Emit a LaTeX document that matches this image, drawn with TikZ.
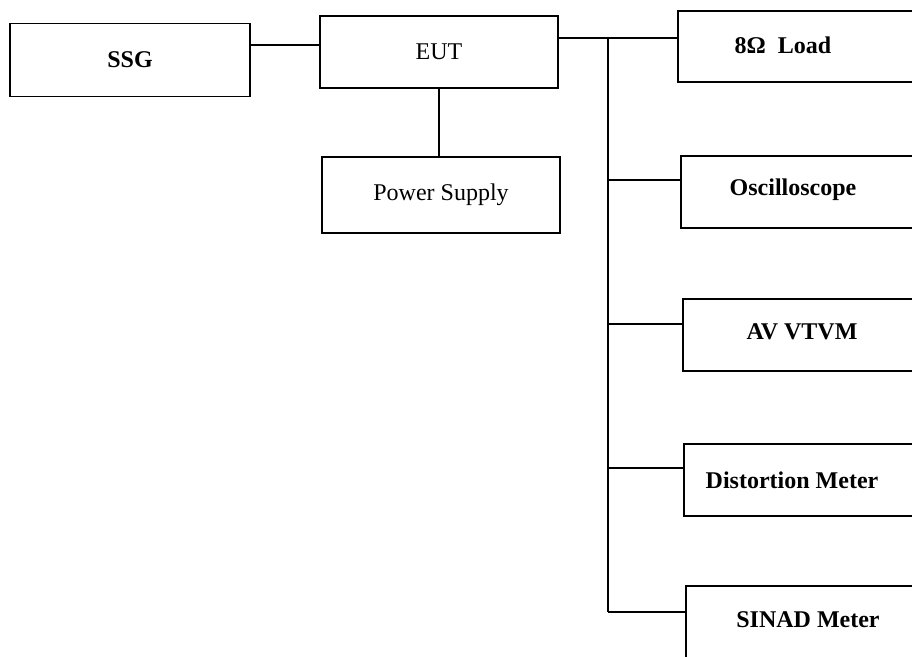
\documentclass[tikz,border=0pt]{standalone}
\usepackage{fontspec}
\setmainfont{Liberation Serif}
\begin{document}
\begin{tikzpicture}[x=1pt,y=-1pt,
  box/.style={draw, line width=1.6pt, rectangle, inner sep=0pt},
  rbox/.style={box, anchor=north west, minimum width=270pt},
  lbl/.style={font=\fontsize{24}{28}\selectfont\bfseries},
  lblr/.style={font=\fontsize{24}{28}\selectfont},
  wire/.style={line width=1.6pt}]
\useasboundingbox (0,0) rectangle (912,656);
\clip (0,0) rectangle (912,656);
% left boxes
\node[box, minimum width=240pt, minimum height=73pt, lbl] (ssg) at (130,60) {SSG};
\node[box, minimum width=238pt, minimum height=72pt, lblr] (eut) at (439,52) {EUT};
\node[box, minimum width=238pt, minimum height=76pt, lblr] (ps) at (441,195) {Power Supply};
% right boxes
\node[rbox, minimum height=71pt] (load) at (677,10) {};
\node[lbl] (loadt) at (783,45) {8Ω\ \ Load};
\node[rbox, minimum height=72pt] (osc) at (680,155) {};
\node[lbl] (osct) at (793,190) {Oscilloscope};
\node[rbox, minimum height=72pt] (av) at (682,298) {};
\node[lbl] (avt) at (802,332) {AV VTVM};
\node[rbox, minimum height=72pt] (dist) at (683,443) {};
\node[lbl] (distt) at (792,480) {Distortion Meter};
\node[rbox, minimum height=90pt] (sinad) at (685,585) {};
\node[lbl] (sinadt) at (808,620) {SINAD Meter};
% connectors
\coordinate (s1) at (0,45);
\draw[wire] (ssg.east |- s1) -- (eut.west |- s1);
\draw[wire] (eut.south) -- (eut.south |- ps.north);
\coordinate (bt) at (608,38);
\coordinate (c1) at (608,180);
\coordinate (c2) at (608,324);
\coordinate (c3) at (608,468);
\coordinate (bb) at (608,612);
\draw[wire] (eut.east |- bt) -- (load.west |- bt);
\draw[wire] (bt) -- (bb);
\draw[wire] (c1) -- (osc.west |- c1);
\draw[wire] (c2) -- (av.west |- c2);
\draw[wire] (c3) -- (dist.west |- c3);
\draw[wire] (bb) -- (sinad.west |- bb);
\end{tikzpicture}
\end{document}
